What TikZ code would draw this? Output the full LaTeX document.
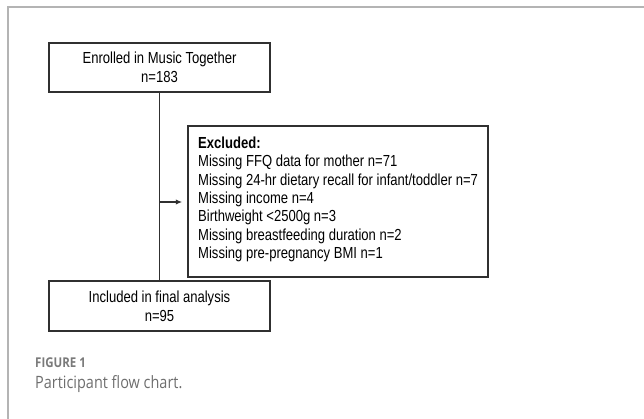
\documentclass[tikz,border=0pt]{standalone}
\usepackage{fontspec}
\setmainfont{Liberation Sans}[FakeStretch=0.816]
\newfontfamily\capfont{Open Sans}[FakeStretch=0.85]
\usetikzlibrary{arrows.meta}
\definecolor{framegray}{HTML}{B4B4B4}
\definecolor{boxline}{HTML}{303030}
\definecolor{capgray}{HTML}{7A7A7A}
\definecolor{capgraytwo}{HTML}{6E6E6E}
\tikzset{
  flowbox/.style={draw=boxline, line width=1.5pt, minimum width=221pt, inner sep=0pt,
    align=center, font=\fontsize{16}{19}\selectfont},
  connector/.style={draw=boxline, line width=1.5pt},
}
\begin{document}
\begin{tikzpicture}[x=1pt,y=-1pt]
\useasboundingbox (0,0) rectangle (644,419);
\draw[framegray, line width=1.5pt] (644,7) -- (8,7) -- (8,419);
\node[flowbox, minimum height=49pt] (b1) at (159.5,67.5) {Enrolled in Music Together\\n=183};
\node[flowbox, minimum height=50pt] (b3) at (159.5,306) {Included in final analysis\\n=95};
\node[draw=boxline, line width=1.5pt, minimum width=300pt, minimum height=151pt, inner sep=0pt] (exbox) at (338,201.5) {};
\node[anchor=north west, inner sep=0pt, align=left, font=\fontsize{16}{18.4}\selectfont] (extext) at (198,136.5)
  {\textbf{Excluded:}\\
   Missing FFQ data for mother n=71\\
   Missing 24-hr dietary recall for infant/toddler n=7\\
   Missing income n=4\\
   Birthweight <2500g n=3\\
   Missing breastfeeding duration n=2\\
   Missing pre-pregnancy BMI n=1};
\draw[connector] (b1.south) -- (b3.north);
\coordinate (j) at (159.5,202);
\draw[connector, -{Latex[length=6.5pt,width=5.5pt]}, shorten >=5pt] (j) -- (j -| exbox.west);
\node[anchor=west, inner sep=0pt, text=capgray, font=\capfont\bfseries\fontsize{13.5}{15}\selectfont] (fig) at (35,362.5) {FIGURE 1};
\node[anchor=base west, inner sep=0pt, text=capgraytwo, font=\capfont\fontsize{17}{19}\selectfont] (cap) at (35,388.5) {Participant flow chart.};
\end{tikzpicture}
\end{document}
